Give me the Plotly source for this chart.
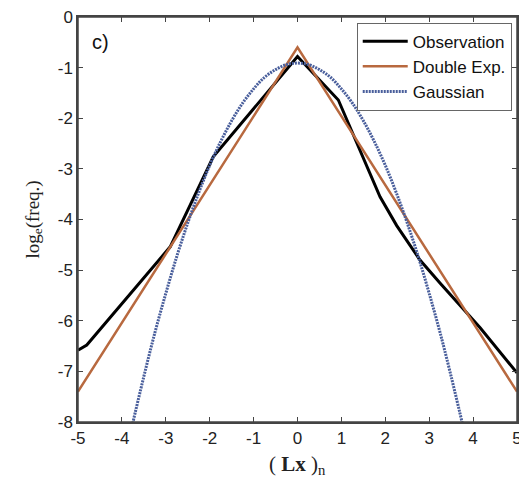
import plotly.graph_objects as go

# Observation (empirical log-frequency)
obs_x = [-5.0, -4.8, -2.9, -1.92, 0.0, 0.93, 1.88, 2.26, 2.79, 3.25, 4.16, 5.0]
obs_y = [-6.58, -6.48, -4.54, -2.76, -0.78, -1.64, -3.55, -4.12, -4.80, -5.26, -6.14, -7.03]

# Double exponential fit
dexp_x = [-5.0, 0.0, 5.0]
dexp_y = [-7.4, -0.6, -7.4]

# Gaussian fit
gau_x = [-3.8, -3.75, -3.5, -3.25, -3.0, -2.75, -2.5, -2.25, -2.0, -1.75, -1.5, -1.25, -1.0,
         -0.75, -0.5, -0.25, 0.0, 0.25, 0.5, 0.75, 1.0, 1.25, 1.5, 1.75, 2.0, 2.25, 2.5,
         2.75, 3.0, 3.25, 3.5, 3.75, 3.8]
gau_y = [-8.20, -8.01, -7.10, -6.24, -5.46, -4.73, -4.07, -3.47, -2.93, -2.46, -2.05, -1.70, -1.42,
         -1.19, -1.04, -0.94, -0.91, -0.94, -1.04, -1.19, -1.42, -1.70, -2.05, -2.46, -2.93, -3.47, -4.07,
         -4.73, -5.46, -6.24, -7.10, -8.01, -8.20]

x_ticks = [-5, -4, -3, -2, -1, 0, 1, 2, 3, 4, 5]
x_tick_text = ["-5", "-4", "-3", "-2", "-1", "0", "1", "2", "3", "4", "5"]
y_ticks = [-8, -7, -6, -5, -4, -3, -2, -1, 0]
y_tick_text = ["-8", "-7", "-6", "-5", "-4", "-3", "-2", "-1", "0"]

fig = go.Figure()
fig.add_trace(go.Scatter(x=obs_x, y=obs_y, mode="lines", name="Observation",
                         line=dict(color="#000000", width=3)))
fig.add_trace(go.Scatter(x=dexp_x, y=dexp_y, mode="lines", name="Double Exp.",
                         line=dict(color="#b8693f", width=2.5)))
fig.add_trace(go.Scatter(x=gau_x, y=gau_y, mode="lines", name="Gaussian",
                         line=dict(color="#4a5f9c", width=3, dash="2px,1px", shape="spline")))

axis_common = dict(showgrid=False, zeroline=False, showline=True, linecolor="#444444", linewidth=1.5,
                   mirror="allticks", ticks="inside", ticklen=5, tickcolor="#444444", tickwidth=1.2,
                   automargin=False, ticklabeloverflow="allow",
                   tickfont=dict(family="Arial", size=17, color="#222222"))

serif = "Times New Roman, Liberation Serif, serif"

# page body adds an 8px offset; margins compensate so the plot area lands at
# x 78..517, y 17..422 in the window
fig.update_layout(
    width=519, height=473,
    margin=dict(l=70, r=10, t=9, b=59),
    paper_bgcolor="white", plot_bgcolor="white",
    font=dict(family="Arial", color="#222222"),
    xaxis=dict(range=[-5, 5], tickvals=x_ticks, ticktext=x_tick_text, **axis_common),
    yaxis=dict(range=[-8, 0], tickvals=y_ticks, ticktext=y_tick_text, **axis_common),
    legend=dict(x=0.988, y=0.986, xanchor="right", yanchor="top",
                bgcolor="white", bordercolor="#666666", borderwidth=1,
                font=dict(family="Arial", size=17, color="#111111"),
                itemwidth=45, tracegroupgap=0),
    showlegend=True,
    shapes=[dict(type="rect", xref="paper", yref="paper", x0=0, x1=1, y0=0, y1=1,
                 line=dict(color="#444444", width=1.5), layer="above")],
    annotations=[
        dict(text="c)", x=0.052, y=0.938, xref="paper", yref="paper",
             xanchor="center", yanchor="middle",
             showarrow=False, font=dict(family="Arial", size=20, color="#111111")),
        dict(text="( <b>Lx</b> )<sub>n</sub>", x=0.5, y=-0.106, xref="paper", yref="paper",
             xanchor="center", yanchor="middle", showarrow=False,
             font=dict(family=serif, size=21, color="#222222")),
        dict(text="log<sub>e</sub>(freq.)", x=-0.1025, y=0.5, xref="paper", yref="paper",
             xanchor="center", yanchor="middle", textangle=-90, showarrow=False,
             font=dict(family=serif, size=19, color="#222222")),
    ],
)

fig.write_html("out.html")
